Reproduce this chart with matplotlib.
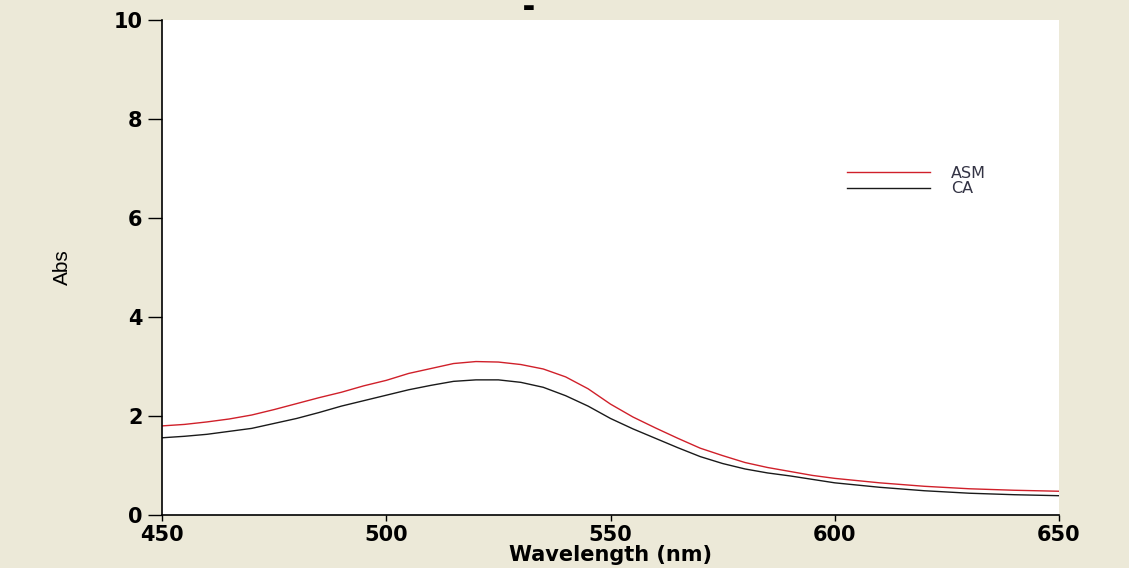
import matplotlib.pyplot as plt

wavelength = [450, 455, 460, 465, 470, 475, 480, 485, 490, 495, 500, 505,
              510, 515, 520, 525, 530, 535, 540, 545, 550, 555, 560, 565,
              570, 575, 580, 585, 590, 595, 600, 610, 620, 630, 640, 650]
asm = [1.80, 1.83, 1.88, 1.94, 2.02, 2.13, 2.25, 2.37, 2.48, 2.61, 2.72, 2.86,
       2.96, 3.06, 3.10, 3.09, 3.04, 2.95, 2.79, 2.55, 2.24, 1.98, 1.76, 1.55,
       1.35, 1.20, 1.06, 0.96, 0.88, 0.80, 0.74, 0.65, 0.58, 0.53, 0.50, 0.48]
ca = [1.56, 1.59, 1.63, 1.69, 1.75, 1.85, 1.95, 2.07, 2.20, 2.31, 2.42, 2.53,
      2.62, 2.70, 2.73, 2.73, 2.68, 2.58, 2.41, 2.20, 1.95, 1.74, 1.55, 1.36,
      1.18, 1.04, 0.93, 0.85, 0.79, 0.72, 0.65, 0.56, 0.49, 0.44, 0.41, 0.39]

xticks = [450, 500, 550, 600, 650]
yticks = [0, 2, 4, 6, 8, 10]

bg = '#ECE9D8'


def main():
    fig = plt.figure(figsize=(11.29, 5.68), dpi=100, facecolor=bg)
    ax = fig.add_axes([0.1435, 0.0933, 0.7945, 0.8715])
    ax.set_facecolor('white')

    ax.plot(wavelength, asm, color='#d0202a', lw=1.0, label='ASM')
    ax.plot(wavelength, ca, color='#1a1a1a', lw=1.0, label='CA')

    ax.set_xlim(450, 650)
    ax.set_ylim(0, 10)
    ax.set_xticks(xticks)
    ax.set_yticks(yticks)
    for s in ['top', 'right']:
        ax.spines[s].set_visible(False)
    for s in ['left', 'bottom']:
        ax.spines[s].set_linewidth(1.2)
    ax.tick_params(axis='y', direction='out', length=10, width=1, pad=4)
    ax.tick_params(axis='x', direction='out', length=4, width=1, pad=3)
    for lab in ax.get_xticklabels() + ax.get_yticklabels():
        lab.set_fontsize(15)
        lab.set_fontweight('bold')
        lab.set_family('DejaVu Sans')

    ax.set_xlabel('Wavelength (nm)', fontsize=15, fontweight='bold',
                  family='DejaVu Sans', labelpad=0)
    ax.set_ylabel('Abs', fontsize=15, family='Liberation Sans', labelpad=30)

    leg = ax.legend(loc='upper left', bbox_to_anchor=(0.748, 0.735),
                    frameon=False, fontsize=11.5, handlelength=5.2,
                    handletextpad=1.3, labelspacing=0.05)
    for t in leg.get_texts():
        t.set_color('#333344')

    # clipped title remnant at the top edge
    fig.text(0.468, 0.999, '\u25ac', fontsize=9, color='black',
             va='top', ha='center')

    fig.savefig('out.png', dpi=100, facecolor=bg)


if __name__ == '__main__':
    main()
